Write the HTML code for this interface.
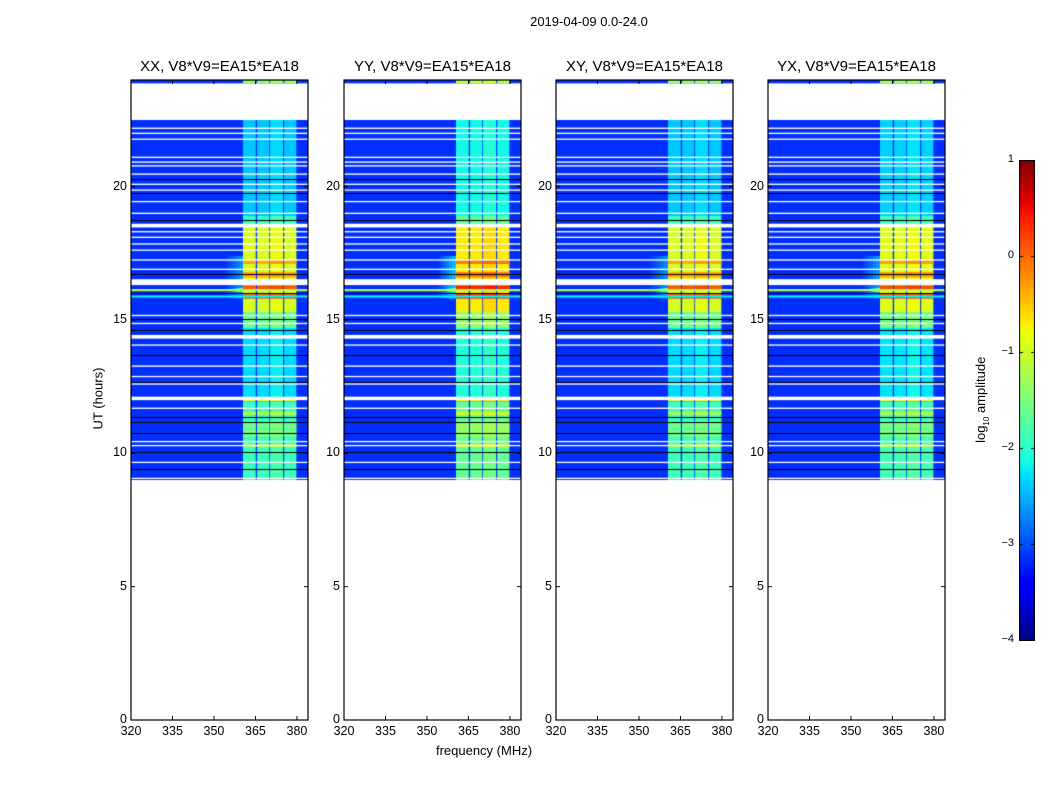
<!DOCTYPE html>
<html><head><meta charset="utf-8">
<style>
body{margin:0;background:#fff;}
#wrap{position:relative;width:1050px;height:800px;font-family:"Liberation Sans",sans-serif;color:#000;overflow:hidden;}
.t{position:absolute;white-space:nowrap;}
canvas{position:absolute;}
</style></head><body>
<div id="wrap">
<div class="t" style="left:489px;top:14px;width:200px;text-align:center;font-size:13px;">2019-04-09 0.0-24.0</div>
<div class="t" style="left:384px;top:743px;width:200px;text-align:center;font-size:13px;">frequency (MHz)</div>
<div class="t" style="left:48px;top:391px;width:100px;text-align:center;font-size:13px;transform:rotate(-90deg);">UT (hours)</div>
<div class="t" style="left:922px;top:391px;width:120px;text-align:center;font-size:13px;transform:rotate(-90deg);">log<sub style="font-size:8px">10</sub> amplitude</div>
<canvas id="cb" width="16" height="481" style="left:1019px;top:160px;"></canvas>
</div>
<script>
// ---- data ----
const panelTitles = ["XX, V8*V9=EA15*EA18","YY, V8*V9=EA15*EA18","XY, V8*V9=EA15*EA18","YX, V8*V9=EA15*EA18"];
const panelGain = [0, 0.25, 0, 0.05];
const xTicks = [320,335,350,365,380];
const yTicks = [0,5,10,15,20];
const cbTicks = [1,0,-1,-2,-3,-4];
const backgroundLevel = -3.15;
const dataSpans = [[9.0,22.5],[23.875,24.0]];
const bands = [[360.5,365.1],[365.6,370.0],[370.3,375.0],[375.4,379.8]];
// time segments [t0, t1, band level]
const bandSegments = [
 [23.875,24.0,-1.4],
 [18.9,22.5,-2.4],[18.6,18.9,-1.9],
 [16.0,18.6,-0.95],
 [17.75,17.9,-0.85],[17.1,17.25,-0.35],[16.6,16.8,-0.35],[16.1,16.3,0.1],
 [15.8,16.0,0.0],[15.3,15.8,-0.95],[14.7,15.3,-1.6],
 [12.1,14.7,-2.3],[11.95,12.1,-0.95],
 [9.0,11.95,-1.9],[11.45,11.55,-1.1],[10.25,10.35,-1.1],[10.6,11.2,-1.6]
];
// pre-band ramp region [t0,t1,f0,f1,level]
const rampSegments = [[15.8,17.4,354,360.5,-2.6],[16.05,16.2,356,360.5,-1.4]];
// full-width lines [hour, level]
const fullLines = [[16.12,-1.2],[15.88,-2.2]];
const whiteGaps = [[22.19,0.05],[22.0,0.05],[21.78,0.05],[21.1,0.05],[20.92,0.05],[20.78,0.05],[20.47,0.05],[20.09,0.05],[19.87,0.05],[19.44,0.05],[19.0,0.05],[18.54,0.14],[18.31,0.05],[18.1,0.05],[17.85,0.05],[17.62,0.05],[17.25,0.05],[16.9,0.05],[16.42,0.22],[15.17,0.05],[14.87,0.05],[14.37,0.14],[14.06,0.05],[13.27,0.05],[12.88,0.05],[12.6,0.05],[12.06,0.13],[11.69,0.05],[10.44,0.05],[10.29,0.05],[9.66,0.05],[9.06,0.05]];
const blackLines = [20.27,19.77,18.75,16.71,16.0,15.03,14.62,13.68,12.68,11.37,11.16,10.77,10.04,9.4];
// ---- layout ----
const panelLefts = [131,344,556,768];
const PW = 177, PT = 80, PH = 640, FMIN = 320, FMAX = 384, TMAX = 24, VMIN=-4, VMAX=1;
function jet(v){
  let x=Math.max(0,Math.min(1,(v-VMIN)/(VMAX-VMIN)));
  function seg(pts){for(let i=0;i<pts.length-1;i++){const [a,av]=pts[i],[b,bv]=pts[i+1];if(x<=b)return av+(bv-av)*(x-a)/(b-a);}return pts[pts.length-1][1];}
  const r=seg([[0,0],[0.35,0],[0.66,1],[0.89,1],[1,0.5]]);
  const g=seg([[0,0],[0.125,0],[0.375,1],[0.64,1],[0.91,0],[1,0]]);
  const b=seg([[0,0.5],[0.11,1],[0.34,1],[0.65,0],[1,0]]);
  return `rgb(${Math.round(r*255)},${Math.round(g*255)},${Math.round(b*255)})`;
}
const wrap=document.getElementById('wrap');
function txt(name,s,l,t,w,align,fs){
  const d=document.createElement('div');d.className='t';
  
  
  d.textContent=s;d.style.left=l+'px';d.style.top=t+'px';d.style.width=w+'px';d.style.textAlign=align;d.style.fontSize=fs+'px';
  wrap.appendChild(d);return d;
}
panelTitles.forEach((title,p)=>{
  const L=panelLefts[p];
  const xs=f=>(f-FMIN)/(FMAX-FMIN)*PW;
  const ys=t=>PH-(t/TMAX)*PH;
  const c=document.createElement('canvas');
  c.width=PW;c.height=PH;c.style.left=L+'px';c.style.top=PT+'px';
  
  
  wrap.appendChild(c);
  const g=c.getContext('2d');
  const rect=(t0,t1,f0,f1,col)=>{g.fillStyle=col;const y0=ys(t1),y1=ys(t0);g.fillRect(xs(f0),y0,xs(f1)-xs(f0),Math.max(1,y1-y0));};
  dataSpans.forEach(s=>rect(s[0],s[1],FMIN,FMAX,jet(backgroundLevel)));
  rampSegments.forEach(r=>{
    const n=12;for(let i=0;i<n;i++){const f0=r[2]+(r[3]-r[2])*i/n,f1=r[2]+(r[3]-r[2])*(i+1)/n;
      rect(r[0],r[1],f0,f1,jet(backgroundLevel+(r[4]+panelGain[p]-backgroundLevel)*(i+1)/n));}
  });
  bandSegments.forEach(s=>bands.forEach((b,bi)=>{
    const lv=s[2]+panelGain[p]+(bi===2?0.1:0);
    rect(s[0],s[1],b[0],b[1],jet(lv));
  }));
  fullLines.forEach(l=>rect(l[0]-0.04,l[0]+0.04,FMIN,FMAX,jet(l[1])));
  blackLines.forEach(h=>{g.fillStyle='#000';g.fillRect(0,Math.round(ys(h)),PW,1);});
  whiteGaps.forEach(w=>rect(w[0]-w[1]/2,w[0]+w[1]/2,FMIN,FMAX,'#fff'));
  const ns='http://www.w3.org/2000/svg';
  const sv=document.createElementNS(ns,'svg');
  sv.setAttribute('width',PW+2);sv.setAttribute('height',PH+2);
  sv.style.position='absolute';sv.style.left=(L-1)+'px';sv.style.top=(PT-1)+'px';sv.style.overflow='visible';
  
  
  let h=`<rect x="1" y="1" width="${PW}" height="${PH}" fill="none" stroke="#000" stroke-width="1.2"/>`;
  xTicks.forEach(v=>{const x=xs(v)+1;h+=`<line x1="${x}" y1="${PH+1}" x2="${x}" y2="${PH-3}" stroke="#000"/><line x1="${x}" y1="1" x2="${x}" y2="5" stroke="#000"/>`;});
  yTicks.forEach(v=>{const y=ys(v)+1;h+=`<line x1="1" y1="${y}" x2="5" y2="${y}" stroke="#000"/><line x1="${PW+1}" y1="${y}" x2="${PW-3}" y2="${y}" stroke="#000"/>`;});
  sv.innerHTML=h;wrap.appendChild(sv);
  xTicks.forEach(v=>txt('x-tick-label',String(v),L+xs(v)-20,724,40,'center',12.5));
  yTicks.forEach(v=>txt('y-tick-label',String(v),L-44,PT+ys(v)-8,40,'right',12.5));
  txt('panel-title',title,L-20,58,PW+40,'center',15);
});
const cb=document.getElementById('cb'),cg=cb.getContext('2d');
for(let y=0;y<481;y++){cg.fillStyle=jet(VMAX-(VMAX-VMIN)*y/480);cg.fillRect(0,y,16,1);}
cg.strokeStyle='#000';cg.lineWidth=1;cg.strokeRect(0.5,0.5,15,480);
cbTicks.forEach(v=>{const y=Math.round((VMAX-v)/(VMAX-VMIN)*480)+0.5;cg.beginPath();cg.moveTo(0,y);cg.lineTo(4,y);cg.moveTo(12,y);cg.lineTo(16,y);cg.stroke();
  txt('colorbar-tick-label',v<0?'\u2212'+(-v):String(v),974,160+y-8,40,'right',11);});
</script>
</body></html>
